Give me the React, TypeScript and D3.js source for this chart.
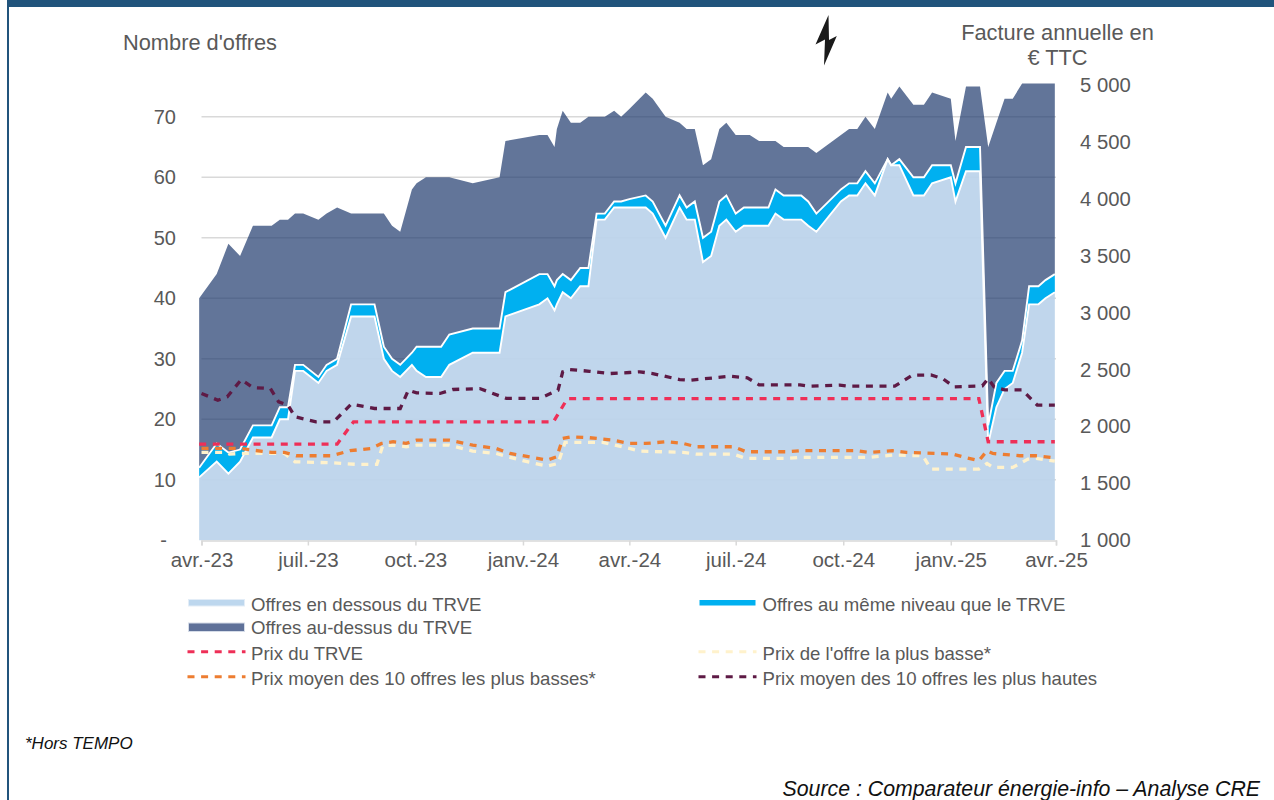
import { useRef, useEffect } from 'react';
import * as d3 from 'd3';

// offers: days since 1 April 2023, then cumulative number of offers
const offerDays = [-2, 13, 23, 33, 44, 60, 67, 74, 80, 87, 100, 107, 116, 128, 148, 156, 163, 170, 180, 184, 192, 205, 212, 232, 255, 260, 289, 296, 302, 304, 309, 316, 324, 331, 338, 345, 353, 359, 366, 380, 386, 397, 409, 415, 422, 429, 436, 443, 449, 457, 464, 469, 477, 485, 491, 498, 513, 519, 526, 547, 554, 561, 568, 576, 587, 590, 597, 609, 618, 625, 641, 645, 654, 666, 673, 680, 687, 694, 702, 708, 716, 722, 730];
const offersBelow = [10.4, 13, 11, 13, 17, 17, 20, 20, 28, 28, 26, 28, 29, 37, 37, 30, 28, 27, 29, 28, 27, 27, 29, 31, 31, 37, 39, 40, 38, 39, 41, 40, 42, 42, 53, 53, 55, 55, 55, 55, 54, 50, 55, 53, 53, 46, 47, 52, 53, 51, 52, 52, 52, 52, 54, 53, 53, 52, 51, 56, 57, 57, 59, 57, 63, 62, 62, 57, 57, 59, 60, 56, 61, 61, 16, 22, 25, 26, 31, 39, 39, 40, 41];
const offersBelowOrSame = [12, 16, 14.5, 15, 19, 19, 22, 22, 29, 29, 27, 29, 30, 39, 39, 32, 30, 29, 31, 32, 32, 32, 34, 35, 35, 41, 44, 44, 42, 43, 44, 43, 45, 45, 54, 54, 56, 56, 56.4, 57, 56, 52, 57, 55, 56, 50, 51, 56, 57, 54, 55, 55, 55, 55, 58, 57, 57, 56, 54, 58, 59, 59, 61, 59, 63, 62, 63, 60, 60, 62, 62, 59, 65, 65, 19, 26, 28, 28, 33, 42, 42, 43, 44];
const offersTotal = [40, 44, 49, 47, 52, 52, 53, 53, 54, 54, 53, 54, 55, 54, 54, 54, 52, 51, 58, 59, 60, 60, 60, 59, 60, 66, 67, 67, 65, 68, 71, 69, 69, 70, 70, 70, 71, 70, 71.3, 74, 73, 70, 69, 68, 68, 62, 63, 68, 69, 67, 67, 67, 66, 66, 66, 65, 65, 65, 64, 67, 68, 68, 70, 68, 74, 73, 75, 72, 72, 74, 73, 66, 75, 75, 65, 69, 73, 73, 75.5, 75.5, 75.5, 75.5, 75.5];

// prices in euros, each with its own dates
const trveDays = [-2, 116, 130, 301, 313, 665, 673, 730];
const trvePrice = [1845, 1845, 2040, 2040, 2245, 2245, 1866, 1866];
const lowestDays = [0, 21, 24, 33, 44, 71, 80, 111, 133, 150, 155, 164, 175, 184, 212, 232, 252, 275, 296, 305, 311, 343, 366, 375, 412, 423, 455, 466, 500, 512, 571, 591, 617, 624, 665, 672, 677, 694, 707, 714, 730];
const lowestPrice = [1772, 1772, 1757, 1763, 1763, 1763, 1690, 1681, 1667, 1667, 1830, 1836, 1822, 1836, 1836, 1784, 1763, 1699, 1652, 1675, 1860, 1860, 1807, 1784, 1772, 1757, 1757, 1719, 1719, 1728, 1728, 1749, 1743, 1626, 1626, 1675, 1640, 1640, 1713, 1719, 1696];
const low10Days = [0, 13, 33, 44, 60, 71, 81, 111, 127, 145, 154, 164, 175, 184, 212, 232, 252, 264, 296, 304, 309, 316, 332, 352, 366, 380, 398, 412, 423, 455, 466, 500, 512, 560, 571, 591, 603, 643, 651, 665, 672, 677, 700, 714, 730];
const low10Price = [1807, 1807, 1807, 1792, 1772, 1772, 1743, 1743, 1787, 1807, 1851, 1866, 1851, 1880, 1880, 1836, 1807, 1763, 1705, 1734, 1895, 1909, 1901, 1880, 1851, 1851, 1866, 1851, 1822, 1822, 1778, 1778, 1787, 1787, 1772, 1787, 1772, 1757, 1734, 1699, 1787, 1763, 1743, 1743, 1725];
const high10Days = [0, 14, 22, 34, 44, 59, 66, 74, 80, 98, 113, 128, 148, 170, 177, 184, 204, 215, 238, 261, 289, 305, 309, 315, 332, 349, 366, 375, 386, 409, 417, 452, 467, 477, 512, 520, 546, 554, 593, 608, 624, 634, 644, 668, 673, 678, 687, 702, 715, 730];
const high10Price = [2290, 2231, 2260, 2412, 2342, 2333, 2216, 2187, 2085, 2041, 2041, 2196, 2158, 2158, 2319, 2295, 2290, 2325, 2333, 2246, 2246, 2319, 2480, 2500, 2485, 2465, 2474, 2480, 2465, 2412, 2406, 2441, 2427, 2366, 2366, 2354, 2363, 2354, 2354, 2450, 2453, 2421, 2348, 2357, 2421, 2348, 2322, 2322, 2187, 2187];

const xTickDates = ['2023-04-01', '2023-07-01', '2023-10-01', '2024-01-01', '2024-04-01', '2024-07-01', '2024-10-01', '2025-01-01', '2025-04-01'];
const xTickLabels = ['avr.-23', 'juil.-23', 'oct.-23', 'janv.-24', 'avr.-24', 'juil.-24', 'oct.-24', 'janv.-25', 'avr.-25'];
const offerTicks = [0, 10, 20, 30, 40, 50, 60, 70];
const priceTicks = [1000, 1500, 2000, 2500, 3000, 3500, 4000, 4500, 5000];

const GREY = '#595959';
const FONT = '"Liberation Sans", Arial, sans-serif';
const DASH = '7 6.6';

const App = () => {
  const svgRef = useRef<SVGSVGElement>(null);

  useEffect(() => {
    const svg = d3.select(svgRef.current);
    svg.selectAll('*').remove();
    svg.style('font-family', FONT);

    const start = new Date(2023, 3, 1);
    const toDate = (d: number) => d3.timeDay.offset(start, d);
    const parse = d3.timeParse('%Y-%m-%d');

    const x = d3.scaleTime().domain([start, new Date(2025, 3, 1)]).range([201.5, 1056]);
    const yOffers = d3.scaleLinear().domain([0, 75.5]).range([540.3, 83.5]);
    const yPrice = d3.scaleLinear().domain([1000, 5000]).range([540.3, 85]);

    // frame
    svg.append('rect').attr('x', 7).attr('y', 0).attr('width', 1267).attr('height', 7).attr('fill', '#21547C');
    svg.append('rect').attr('x', 7).attr('y', 0).attr('width', 2).attr('height', 800).attr('fill', '#21547C');

    // gridlines go under the areas, the dark one lets them show through
    svg.append('g')
      .selectAll('line')
      .data(offerTicks.filter(d => d > 0))
      .enter()
      .append('line')
      .attr('x1', 201.5)
      .attr('x2', 1056)
      .attr('y1', d => yOffers(d))
      .attr('y2', d => yOffers(d))
      .attr('stroke', '#D9D9D9')
      .attr('stroke-width', 1.5);

    const idx = offerDays.map((_, i) => i);
    const band = (lower: number[], upper: number[]) =>
      d3.area<number>()
        .x(i => x(toDate(offerDays[i])))
        .y0(i => yOffers(lower[i]))
        .y1(i => yOffers(upper[i]));
    const zeros = offerDays.map(() => 0);

    svg.append('path').attr('d', band(offersBelowOrSame, offersTotal)(idx)).attr('fill', '#1F3A6E').attr('opacity', 0.7);
    svg.append('path').attr('d', band(offersBelow, offersBelowOrSame)(idx)).attr('fill', '#00B0F0');
    svg.append('path').attr('d', band(zeros, offersBelow)(idx)).attr('fill', '#BBD3EB').attr('opacity', 0.93);

    // white edges on top of the bands
    [offersBelowOrSame, offersBelow].forEach(series => {
      const edge = d3.line<number>()
        .x(i => x(toDate(offerDays[i])))
        .y(i => yOffers(series[i]));
      svg.append('path').attr('d', edge(idx)).attr('fill', 'none').attr('stroke', '#FFFFFF').attr('stroke-width', 1.9);
    });

    // price lines
    const priceLines = [
      { days: trveDays, values: trvePrice, color: '#EE2F57' },
      { days: lowestDays, values: lowestPrice, color: '#FFF2CC' },
      { days: low10Days, values: low10Price, color: '#ED7D31' },
      { days: high10Days, values: high10Price, color: '#5E1A45' },
    ];
    priceLines.forEach(s => {
      const line = d3.line<number>()
        .x(d => x(toDate(d)))
        .y((_, i) => yPrice(s.values[i]));
      svg.append('path')
        .attr('d', line(s.days))
        .attr('fill', 'none')
        .attr('stroke', s.color)
        .attr('stroke-width', 3.3)
        .attr('stroke-dasharray', DASH);
    });

    // axes
    const xAxis = svg.append('g')
      .attr('transform', 'translate(0,540.5)')
      .call(
        d3.axisBottom(x)
          .tickValues(xTickDates.map(d => parse(d) as Date))
          .tickFormat((_, i) => xTickLabels[i])
          .tickSizeOuter(0)
          .tickSize(5)
          .tickPadding(7)
      );
    xAxis.select('.domain').attr('stroke', '#D9D9D9').attr('stroke-width', 1.5);
    xAxis.selectAll('.tick line').attr('stroke', '#D9D9D9').attr('stroke-width', 1.5);
    xAxis.selectAll('text').attr('fill', GREY).style('font-size', '20.5px').style('font-family', FONT);

    const leftAxis = svg.append('g')
      .attr('transform', 'translate(184,0)')
      .call(
        d3.axisLeft(yOffers)
          .tickValues(offerTicks)
          .tickFormat(d => (d === 0 ? '-' : String(d)))
          .tickSize(0)
          .tickPadding(8)
      );
    leftAxis.select('.domain').remove();
    leftAxis.selectAll('text').attr('fill', GREY).style('font-size', '20px').style('font-family', FONT);
    leftAxis.selectAll('text').filter(d => d === 0).attr('dx', -9);

    const rightAxis = svg.append('g')
      .attr('transform', 'translate(1072,0)')
      .call(
        d3.axisRight(yPrice)
          .tickValues(priceTicks)
          .tickFormat(d => d3.format(',')(d as number).replace(',', ' '))
          .tickSize(0)
          .tickPadding(8)
      );
    rightAxis.select('.domain').remove();
    rightAxis.selectAll('text').attr('fill', GREY).style('font-size', '20.3px').style('font-family', FONT);

    // axis titles
    const label = (txt: string, tx: number, ty: number, size: number, anchor = 'start', color = GREY, italic = false) =>
      svg.append('text')
        .attr('x', tx)
        .attr('y', ty)
        .attr('text-anchor', anchor)
        .attr('fill', color)
        .style('font-size', `${size}px`)
        .style('font-style', italic ? 'italic' : 'normal')
        .text(txt);

    label("Nombre d'offres", 123, 50, 21.8);
    label('Facture annuelle en', 1057.5, 40, 21.8, 'middle');
    label('€ TTC', 1057.5, 65, 21.8, 'middle');

    // lightning bolt
    svg.append('path')
      .attr('d', 'M828.5,15 L815.5,44.5 L825,39.5 L824,65.5 L836.8,36 L829,40 Z')
      .attr('fill', '#1A1A1A');

    // legend
    const swatch = (sx: number, sy: number, h: number, fill: string, border?: string) => {
      svg.append('rect')
        .attr('x', sx)
        .attr('y', sy)
        .attr('width', 56)
        .attr('height', h)
        .attr('fill', fill)
        .attr('stroke', border || 'none');
    };
    const dashSwatch = (sx: number, sy: number, color: string) => {
      svg.append('line')
        .attr('x1', sx)
        .attr('x2', sx + 58)
        .attr('y1', sy)
        .attr('y2', sy)
        .attr('stroke', color)
        .attr('stroke-width', 3)
        .attr('stroke-dasharray', DASH);
    };

    swatch(188.5, 599.5, 6.5, '#BDD7EE', '#E3EDF7');
    swatch(699.5, 600, 5.5, '#00B0F0');
    swatch(188.5, 623, 8.5, '#5F7199', '#D5DCE8');
    dashSwatch(187.5, 651.7, '#EE2F57');
    dashSwatch(698.5, 651.7, '#FFF2CC');
    dashSwatch(187.5, 676.7, '#ED7D31');
    dashSwatch(698.5, 676.7, '#5E1A45');

    label('Offres en dessous du TRVE', 251, 611, 18.6);
    label('Offres au même niveau que le TRVE', 762.5, 611, 18.6);
    label('Offres au-dessus du TRVE', 251, 634, 18.6);
    label('Prix du TRVE', 251, 659.5, 18.6);
    label("Prix de l'offre la plus basse*", 762.5, 659.5, 18.6);
    label('Prix moyen des 10 offres les plus basses*', 251, 684.5, 18.6);
    label('Prix moyen des 10 offres les plus hautes', 762.5, 684.5, 18.6);

    // notes
    label('*Hors TEMPO', 25, 749, 17, 'start', '#111111', true);
    label('Source : Comparateur énergie-info – Analyse CRE', 1260, 796, 21.3, 'end', '#111111', true);
  }, []);

  return (
    <svg
      ref={svgRef}
      width="1274"
      height="800"
      style={{ position: 'absolute', left: 0, top: 0, display: 'block', background: '#FFFFFF' }}
    ></svg>
  );
};

export default App;
